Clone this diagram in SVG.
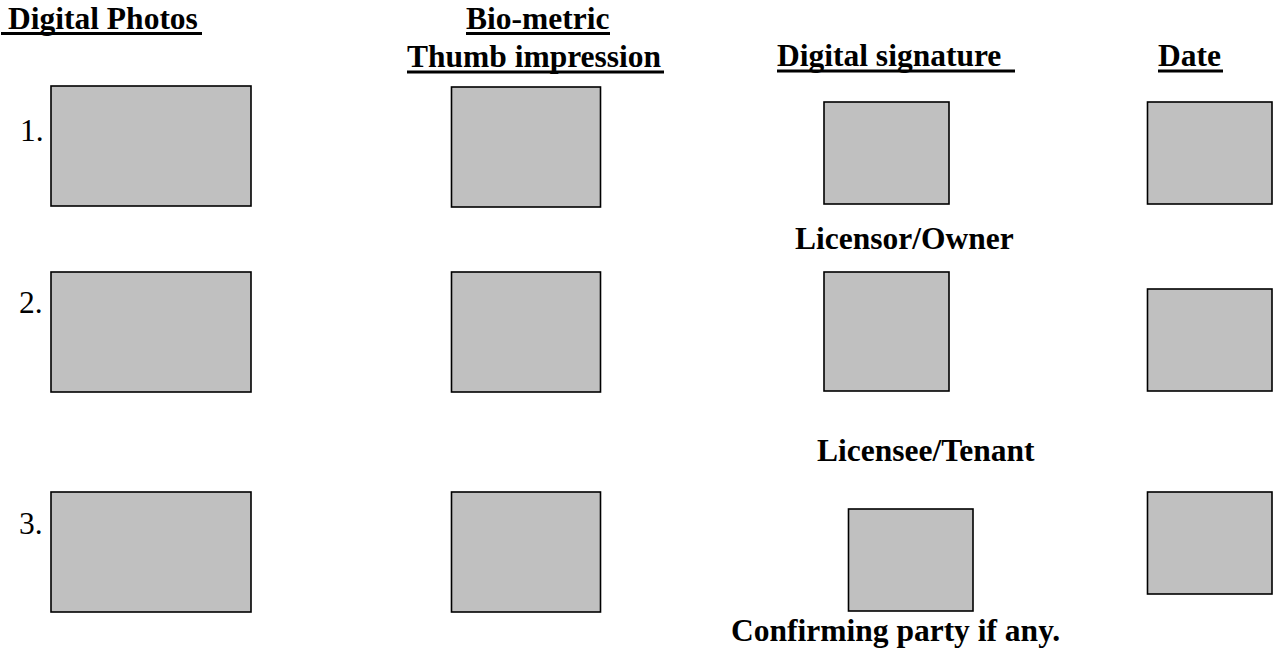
<svg xmlns="http://www.w3.org/2000/svg" width="1274" height="653" viewBox="0 0 1274 653">
  <style>
    .box { fill: #c0c0c0; stroke: #000; stroke-width: 1.6; }
    .hd { font-family: "Liberation Serif", "Times New Roman", serif; font-weight: bold; font-size: 31.5px; fill: #000; }
    .num { font-family: "Liberation Serif", "Times New Roman", serif; font-size: 31.5px; fill: #000; }
    .ul { fill: #000; }
  </style>
  <rect width="1274" height="653" fill="#fff"/>

  <!-- column headings -->
  <g id="head-photos">
    <text class="hd" x="8" y="29">Digital Photos</text>
    <rect class="ul" x="1" y="32" width="201" height="3"/>
  </g>
  <g id="head-thumb">
    <text class="hd" x="466" y="29">Bio-metric</text>
    <rect class="ul" x="466" y="32" width="144" height="3"/>
    <text class="hd" x="407" y="67">Thumb impression</text>
    <rect class="ul" x="407" y="70.5" width="257" height="3"/>
  </g>
  <g id="head-signature">
    <text class="hd" x="777" y="66">Digital signature</text>
    <rect class="ul" x="777" y="69.5" width="238" height="3"/>
  </g>
  <g id="head-date">
    <text class="hd" x="1158" y="66">Date</text>
    <rect class="ul" x="1158" y="69.5" width="65" height="3"/>
  </g>

  <!-- row numbers -->
  <g id="row-numbers">
    <text class="num" x="20" y="141">1.</text>
    <text class="num" x="19" y="313">2.</text>
    <text class="num" x="19" y="534">3.</text>
  </g>

  <!-- row 1 -->
  <g id="photo-1"><rect class="box" x="51" y="86" width="200" height="120"/></g>
  <g id="thumb-1"><rect class="box" x="451.5" y="87" width="149" height="120"/></g>
  <g id="sign-1"><rect class="box" x="824" y="102" width="125" height="102"/></g>
  <g id="date-1"><rect class="box" x="1147.5" y="102" width="124.5" height="102"/></g>
  <g id="label-licensor"><text class="hd" x="795" y="249">Licensor/Owner</text></g>

  <!-- row 2 -->
  <g id="photo-2"><rect class="box" x="51" y="272" width="200" height="120"/></g>
  <g id="thumb-2"><rect class="box" x="451.5" y="272" width="149" height="120"/></g>
  <g id="sign-2"><rect class="box" x="824" y="272" width="125" height="119"/></g>
  <g id="date-2"><rect class="box" x="1147.5" y="289" width="124.5" height="102"/></g>
  <g id="label-licensee"><text class="hd" x="817" y="461">Licensee/Tenant</text></g>

  <!-- row 3 -->
  <g id="photo-3"><rect class="box" x="51" y="492" width="200" height="120"/></g>
  <g id="thumb-3"><rect class="box" x="451.5" y="492" width="149" height="120"/></g>
  <g id="sign-3"><rect class="box" x="848.5" y="509" width="124.5" height="102"/></g>
  <g id="date-3"><rect class="box" x="1147.5" y="492" width="124.5" height="102"/></g>
  <g id="label-confirming"><text class="hd" x="731" y="641">Confirming party if any.</text></g>

  <g id="connectors"></g>
</svg>
